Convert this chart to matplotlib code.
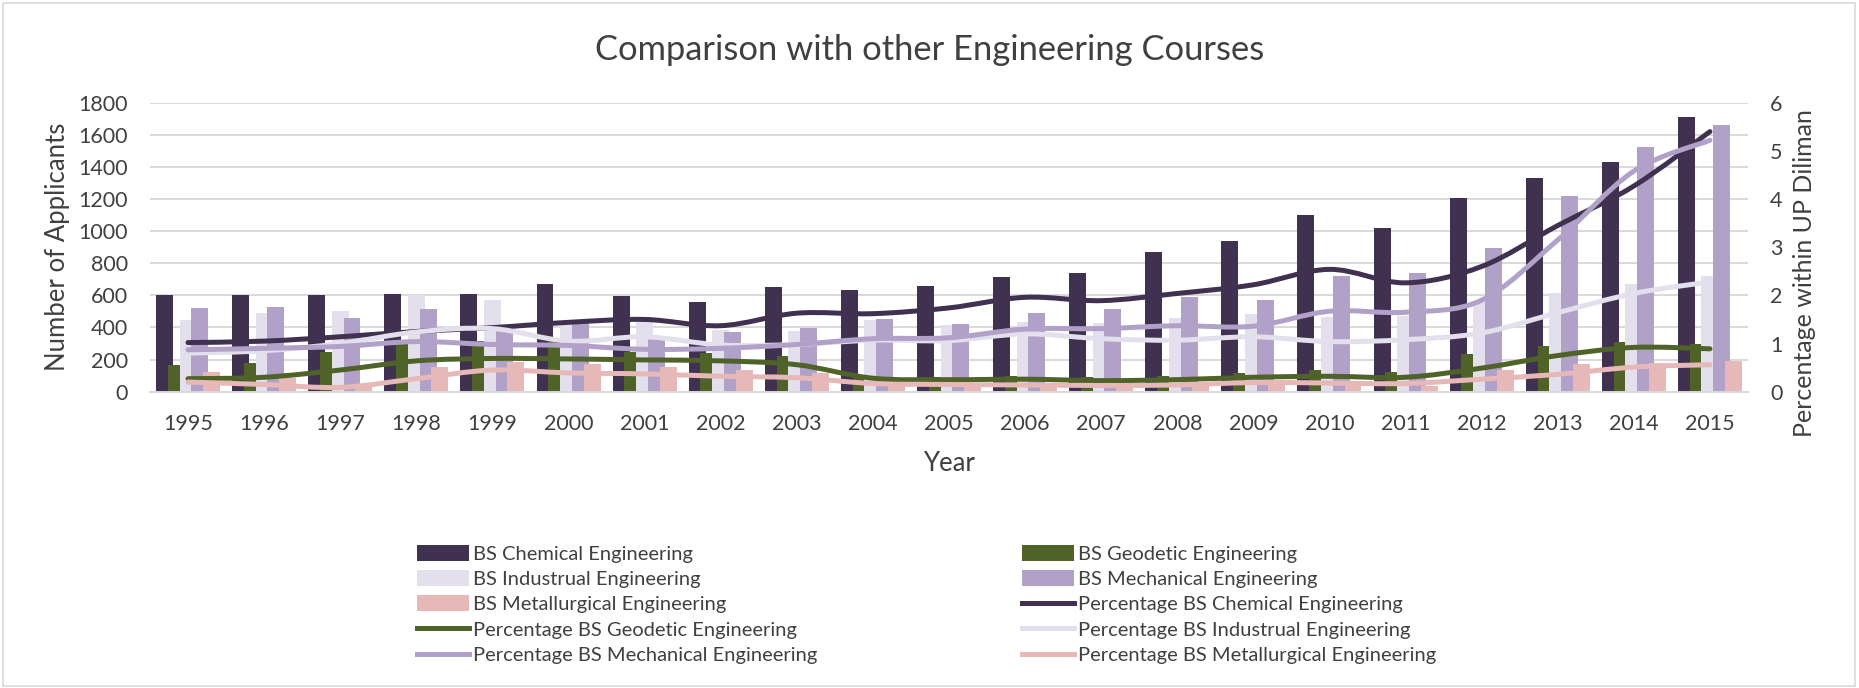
import matplotlib
matplotlib.use("Agg")
import matplotlib.pyplot as plt
import numpy as np
from matplotlib.path import Path
from matplotlib.patches import PathPatch, Rectangle, Patch
from matplotlib.lines import Line2D

plt.rcParams['font.family'] = ['Lato', 'DejaVu Sans']

years = [str(y) for y in range(1995, 2016)]

chem = [600, 600, 600, 608, 606, 669, 598, 557, 654, 635, 660, 712, 737, 870, 941, 1099, 1021, 1208, 1329, 1432, 1709]
geo = [166, 181, 245, 325, 315, 322, 249, 239, 224, 95, 90, 100, 90, 100, 118, 135, 125, 235, 287, 310, 295]
ind = [446, 490, 503, 600, 571, 415, 467, 384, 378, 446, 415, 436, 430, 459, 484, 463, 471, 560, 613, 671, 723]
mech = [520, 530, 457, 514, 405, 426, 350, 370, 395, 451, 420, 490, 514, 592, 571, 723, 741, 894, 1221, 1522, 1661]
met = [123, 83, 35, 154, 185, 172, 156, 135, 115, 45, 40, 35, 30, 35, 40, 40, 38, 137, 172, 177, 191]

p_chem = [1.02, 1.05, 1.14, 1.25, 1.33, 1.44, 1.50, 1.37, 1.63, 1.62, 1.74, 1.96, 1.89, 2.04, 2.22, 2.54, 2.26, 2.60, 3.45, 4.27, 5.40]
p_geo = [0.27, 0.30, 0.45, 0.64, 0.69, 0.68, 0.66, 0.64, 0.56, 0.28, 0.25, 0.26, 0.23, 0.25, 0.30, 0.32, 0.30, 0.49, 0.75, 0.92, 0.89]
p_ind = [0.80, 0.85, 1.00, 1.24, 1.31, 1.05, 1.14, 0.97, 0.98, 1.07, 1.06, 1.20, 1.10, 1.07, 1.14, 1.04, 1.08, 1.22, 1.64, 2.04, 2.28]
p_mech = [0.87, 0.90, 0.94, 1.04, 0.98, 0.96, 0.88, 0.90, 0.98, 1.10, 1.12, 1.30, 1.31, 1.37, 1.36, 1.67, 1.65, 1.90, 3.15, 4.58, 5.22]
p_met = [0.20, 0.15, 0.09, 0.27, 0.45, 0.39, 0.37, 0.32, 0.29, 0.17, 0.15, 0.14, 0.13, 0.14, 0.19, 0.18, 0.17, 0.26, 0.36, 0.51, 0.56]

bar_names = ["BS Chemical Engineering", "BS Geodetic Engineering", "BS Industrual Engineering",
             "BS Mechanical Engineering", "BS Metallurgical Engineering"]
line_names = ["Percentage " + n for n in bar_names]
colors = ["#403151", "#4F6228", "#E4DFEC", "#B1A0C7", "#E6B8B7"]

TXT = "#404040"
GRID = "#d9d9d9"

W, H = 1859, 688
fig = plt.figure(figsize=(W / 100, H / 100), dpi=100)
ax = fig.add_axes([150 / W, 1 - 391.7 / H, (1748 - 150) / W, (391.7 - 102.7) / H])
ax2 = ax.twinx()

x = np.arange(len(years))
bw = 0.223
step = 0.1545
for k, vals in enumerate([chem, geo, ind, mech, met]):
    ax.bar(x + (k - 2) * step, vals, width=bw, color=colors[k], zorder=2)

ax.set_xlim(-0.5, len(years) - 0.5)
ax.set_ylim(0, 1800)
ax.set_yticks(range(0, 1801, 200))
ax.set_xticks(x)
ax.set_xticklabels(years)
ax.yaxis.grid(True, color=GRID, lw=1.4, zorder=0)
ax.set_axisbelow(True)
for s in ax.spines.values():
    s.set_visible(False)
for s in ax2.spines.values():
    s.set_visible(False)
ax.spines['bottom'].set_visible(True)
ax.spines['bottom'].set_color(GRID)
ax.spines['bottom'].set_linewidth(1.4)
ax.tick_params(axis='both', length=0, labelsize=15.5, colors=TXT)
ax.tick_params(axis='y', pad=16)
ax.tick_params(axis='x', pad=16)

ax2.set_ylim(0, 6)
ax2.set_yticks(range(0, 7))
ax2.tick_params(axis='y', length=0, labelsize=15.5, colors=TXT, pad=16)


def smooth_line(axis, xs, ys, color):
    P = np.column_stack([xs, ys]).astype(float)
    n = len(P)
    verts = [tuple(P[0])]
    codes = [Path.MOVETO]
    for i in range(n - 1):
        p0 = P[i - 1] if i > 0 else P[i]
        p1 = P[i]
        p2 = P[i + 1]
        p3 = P[i + 2] if i + 2 < n else P[i + 1]
        c1 = p1 + (p2 - p0) / 6.0
        c2 = p2 - (p3 - p1) / 6.0
        verts += [tuple(c1), tuple(c2), tuple(p2)]
        codes += [Path.CURVE4] * 3
    patch = PathPatch(Path(verts, codes), fill=False, edgecolor=color, lw=3.6,
                      capstyle='round', joinstyle='round', transform=axis.transData, zorder=3)
    axis.add_patch(patch)


for k, vals in enumerate([p_chem, p_geo, p_ind, p_mech, p_met]):
    smooth_line(ax2, x, vals, colors[k])

ax.set_ylabel("Number of Applicants", fontsize=18.5, color=TXT)
ax.yaxis.set_label_coords((70 - 150) / 1598, 0.5)
ax2.set_ylabel("Percentage within UP Diliman", fontsize=18, color=TXT)
ax2.yaxis.set_label_coords((1793 - 150) / 1598, 0.41)
ax.set_xlabel("Year", fontsize=18.5, color=TXT, labelpad=12)

fig.text(0.5, 1 - 50 / H, "Comparison with other Engineering Courses", ha='center', va='center',
         fontsize=24.8, color=TXT)

# legend (row-major order like the reference, two columns)
handles = [Patch(facecolor=c) for c in colors] + [Line2D([], [], color=c, lw=3.6) for c in colors]
labels = bar_names + line_names
left_h, left_l = handles[0::2], labels[0::2]
right_h, right_l = handles[1::2], labels[1::2]
common = dict(frameon=False, fontsize=14.5, handlelength=2.6, handleheight=0.85, handletextpad=0.2,
              labelspacing=0.37, borderpad=0, borderaxespad=0, loc='upper left', labelcolor=TXT)
leg1 = fig.legend(left_h, left_l, bbox_to_anchor=(417 / W, 1 - 544.5 / H), **common)
leg2 = fig.legend(right_h, right_l, bbox_to_anchor=(1022 / W, 1 - 544.5 / H), **common)

fig.add_artist(Rectangle((3 / W, 2 / H), 1 - 7 / W, 1 - 5 / H, transform=fig.transFigure,
                         fill=False, edgecolor=GRID, lw=1.2))

fig.savefig("out.png", dpi=100)
